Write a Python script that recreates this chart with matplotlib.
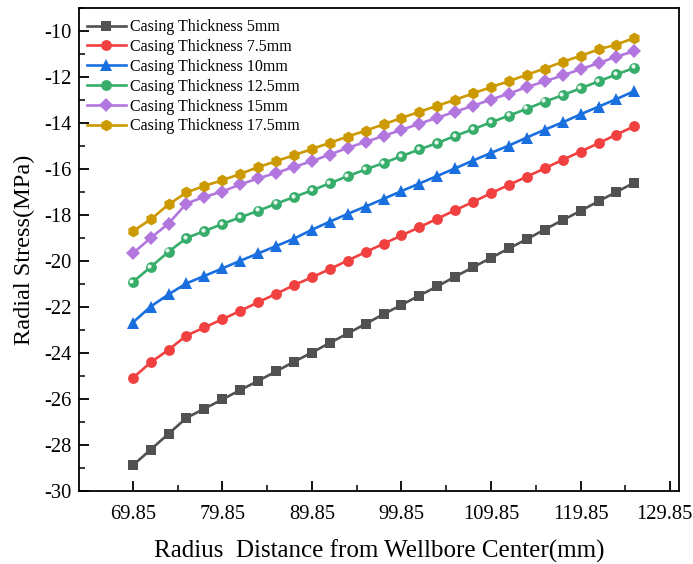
import numpy as np
import matplotlib
matplotlib.use("Agg")
import matplotlib.pyplot as plt
from matplotlib.ticker import MultipleLocator, FixedLocator
import matplotlib.transforms as mtransforms

plt.rcParams['font.family'] = ['Liberation Serif', 'DejaVu Serif']
plt.rcParams['axes.unicode_minus'] = False

radius = [69.85 + 2 * i for i in range(29)]

labels = ["Casing Thickness 5mm", "Casing Thickness 7.5mm", "Casing Thickness 10mm",
          "Casing Thickness 12.5mm", "Casing Thickness 15mm", "Casing Thickness 17.5mm"]

t5 = [-28.89, -28.20, -27.51, -26.82, -26.42, -26.02, -25.61, -25.21, -24.80, -24.38,
      -23.98, -23.56, -23.15, -22.73, -22.31, -21.91, -21.50, -21.10, -20.68, -20.27,
      -19.86, -19.45, -19.05, -18.63, -18.22, -17.82, -17.40, -17.00, -16.59]
t7_5 = [-25.09, -24.41, -23.86, -23.24, -22.89, -22.53, -22.17, -21.79, -21.43, -21.05,
        -20.71, -20.35, -19.98, -19.61, -19.25, -18.89, -18.53, -18.16, -17.79, -17.43,
        -17.05, -16.69, -16.33, -15.97, -15.60, -15.24, -14.88, -14.50, -14.14]
t10 = [-22.68, -21.98, -21.45, -20.97, -20.65, -20.32, -19.99, -19.67, -19.35, -19.03,
       -18.64, -18.29, -17.95, -17.63, -17.30, -16.96, -16.63, -16.30, -15.97, -15.63,
       -15.30, -14.98, -14.63, -14.29, -13.97, -13.62, -13.29, -12.96, -12.61]
t12_5 = [-20.92, -20.26, -19.60, -19.00, -18.70, -18.39, -18.10, -17.82, -17.51, -17.22,
         -16.93, -16.62, -16.31, -16.02, -15.74, -15.44, -15.15, -14.87, -14.56, -14.27,
         -13.97, -13.68, -13.38, -13.07, -12.79, -12.49, -12.19, -11.89, -11.60]
t15 = [-19.67, -19.00, -18.37, -17.50, -17.21, -16.98, -16.67, -16.41, -16.17, -15.91,
       -15.66, -15.37, -15.08, -14.82, -14.56, -14.30, -14.03, -13.77, -13.51, -13.25,
       -12.98, -12.72, -12.44, -12.19, -11.93, -11.66, -11.40, -11.11, -10.88]
t17_5 = [-18.71, -18.19, -17.54, -17.02, -16.73, -16.49, -16.21, -15.92, -15.66, -15.40,
         -15.13, -14.86, -14.59, -14.33, -14.06, -13.78, -13.51, -13.25, -12.99, -12.71,
         -12.44, -12.18, -11.90, -11.63, -11.34, -11.08, -10.80, -10.59, -10.30]

series = [t5, t7_5, t10, t12_5, t15, t17_5]
colors = ["#515151", "#F14040", "#1A6FDF", "#37AD6B", "#B177DE", "#CC9900"]
markers = ["s", "o", "^", "o", "D", "h"]
msizes = [7.2, 7.8, 9, 7.8, 7, 8.5]

xticks = [69.85, 79.85, 89.85, 99.85, 109.85, 119.85, 129.85]

fig = plt.figure(figsize=(6.93, 5.64), dpi=100)
ax = fig.add_axes([0.114, 0.1294, 0.866, 0.8564])

for ys, c, m, ms, lab in zip(series, colors, markers, msizes, labels):
    ax.plot(radius, ys, color=c, marker=m, markersize=ms, linewidth=1.9,
            markeredgewidth=0, label=lab)

# highlight dots on the green "ball" markers
offset = mtransforms.ScaledTranslation(-1.0 / 72, 1.0 / 72, fig.dpi_scale_trans)
ax.plot(radius, t12_5, linestyle='none', marker='o', markersize=3.0,
        color='#e8f6ee', markeredgewidth=0, transform=ax.transData + offset)

ax.set_xlim(63.85, 130.85)
ax.set_ylim(-30, -9)
ax.xaxis.set_major_locator(FixedLocator(xticks))
ax.xaxis.set_minor_locator(FixedLocator([x + 5 for x in xticks[:-1]]))
ax.yaxis.set_major_locator(MultipleLocator(2))
ax.yaxis.set_minor_locator(MultipleLocator(1))
ax.set_xticklabels([f"{x:.2f}" for x in xticks])

ax.tick_params(axis='both', which='major', direction='in', length=7, width=1.3,
               labelsize=14.8, top=False, right=False)
ax.tick_params(axis='both', which='minor', direction='in', length=4, width=1.1,
               top=False, right=False)
ax.tick_params(axis='x', which='major', pad=10)
ax.tick_params(axis='y', which='major', pad=5)
for s in ax.spines.values():
    s.set_linewidth(1.3)

# nudge the last x tick label left so it stays inside the figure
last = ax.xaxis.get_major_ticks()[-1].label1
last.set_transform(last.get_transform() +
                   mtransforms.ScaledTranslation(-5.5 / 100, 0, fig.dpi_scale_trans))

ax.set_xlabel("Radius  Distance from Wellbore Center(mm)", fontsize=18, labelpad=11)
ax.set_ylabel("Radial Stress(MPa)", fontsize=17.6, labelpad=7)

ax.legend(loc='upper left', frameon=False, fontsize=11.5, handlelength=2.4,
          handletextpad=0.3, labelspacing=0.24, borderaxespad=0.3,
          bbox_to_anchor=(-0.005, 1.0))

fig.savefig("out.png", dpi=100)
